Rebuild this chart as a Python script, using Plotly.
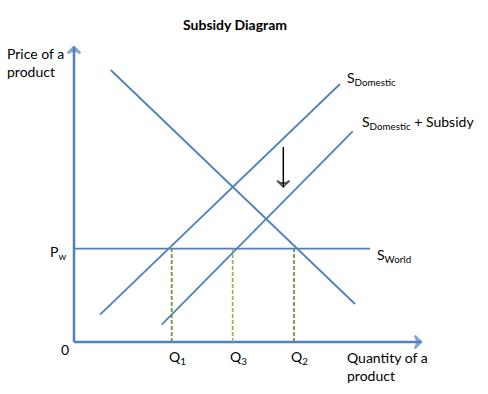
import plotly.graph_objects as go

# Data (economic units; 1 unit ~ 10 px in the reference)
demand_q = [3.67, 28.1]
demand_p = [27.2, 3.8]
sdom_q = [2.6, 26.6]
sdom_p = [2.73, 25.8]
ssub_q = [8.77, 27.87]
ssub_p = [1.73, 21.07]
world_price = 9.33
world_q_end = 29.6
q_labels = ["Q<sub>1</sub>", "Q<sub>3</sub>", "Q<sub>2</sub>"]
q_values = [9.77, 15.87, 22.0]
q_colors = ["#77933C", "#9BBB59", "#77933C"]
axis_x_end = 34.7
axis_y_end = 29.5
shift_arrow_q = 20.93
shift_arrow_p = [19.5, 15.5]

BLUE = "#4F81BD"
FONT = "Lato, Carlito, 'Open Sans', sans-serif"

fig = go.Figure()

def arrow_line(xs, ys, color, width, head):
    fig.add_trace(go.Scatter(
        x=xs, y=ys, mode="lines+markers", hoverinfo="skip",
        line=dict(color=color, width=width),
        marker=dict(symbol="arrow-wide-open", size=[0, head], angleref="previous",
                    color=color, line=dict(color=color, width=width))))

# axes
arrow_line([0, 0], [0, axis_y_end], BLUE, 2.5, 9)
arrow_line([0, axis_x_end], [0, 0], BLUE, 2.5, 9)

line_style = dict(color=BLUE, width=1.8)
fig.add_trace(go.Scatter(x=demand_q, y=demand_p, mode="lines", line=line_style, hoverinfo="skip"))
fig.add_trace(go.Scatter(x=sdom_q, y=sdom_p, mode="lines", line=line_style, hoverinfo="skip"))
fig.add_trace(go.Scatter(x=ssub_q, y=ssub_p, mode="lines", line=line_style, hoverinfo="skip"))
fig.add_trace(go.Scatter(x=[0, world_q_end], y=[world_price, world_price], mode="lines",
                         line=line_style, hoverinfo="skip"))

for q, c in zip(q_values, q_colors):
    fig.add_trace(go.Scatter(x=[q, q], y=[0, world_price], mode="lines",
                             line=dict(color=c, width=1.8, dash="4px,2px"), hoverinfo="skip"))

# shift arrow
arrow_line([shift_arrow_q, shift_arrow_q], shift_arrow_p, "black", 1.5, 9)

annotations = []

def px2x(px):
    return (px - 74) / 10.0

def py2y(py):
    return (342 - py) / 10.0

def label(text, px, py, xanchor="left", size=14, bold=False):
    t = f"<b>{text}</b>" if bold else text
    annotations.append(dict(x=px2x(px), y=py2y(py), xref="x", yref="y", text=t, showarrow=False,
                            xanchor=xanchor, yanchor="middle", align="left",
                            font=dict(family=FONT, size=size, color="black")))

label("Subsidy Diagram", 235, 24, xanchor="center", size=14, bold=True)
label("Price of a<br>product", 5, 62)
label("Quantity of a<br>product", 345, 366)
label("S<sub>Domestic</sub>", 345, 78)
label("S<sub>Domestic</sub> + Subsidy", 360, 122)
label("S<sub>World</sub>", 375, 255)
label("P<sub>w</sub>", 48, 252)
label("0", 65, 349, xanchor="center")
for q, t in zip(q_values, q_labels):
    annotations.append(dict(x=q - 0.5, y=py2y(357), xref="x", yref="y", text=t, showarrow=False,
                            xanchor="left", yanchor="middle",
                            font=dict(family=FONT, size=14, color="black")))

fig.update_layout(
    width=488, height=394,
    margin=dict(l=0, r=0, t=0, b=0),
    paper_bgcolor="white", plot_bgcolor="white",
    showlegend=False,
    annotations=annotations,
    xaxis=dict(range=[px2x(0), px2x(488)], visible=False, fixedrange=True),
    yaxis=dict(range=[py2y(394), py2y(0)], visible=False, fixedrange=True),
)

fig.write_html("out.html")
